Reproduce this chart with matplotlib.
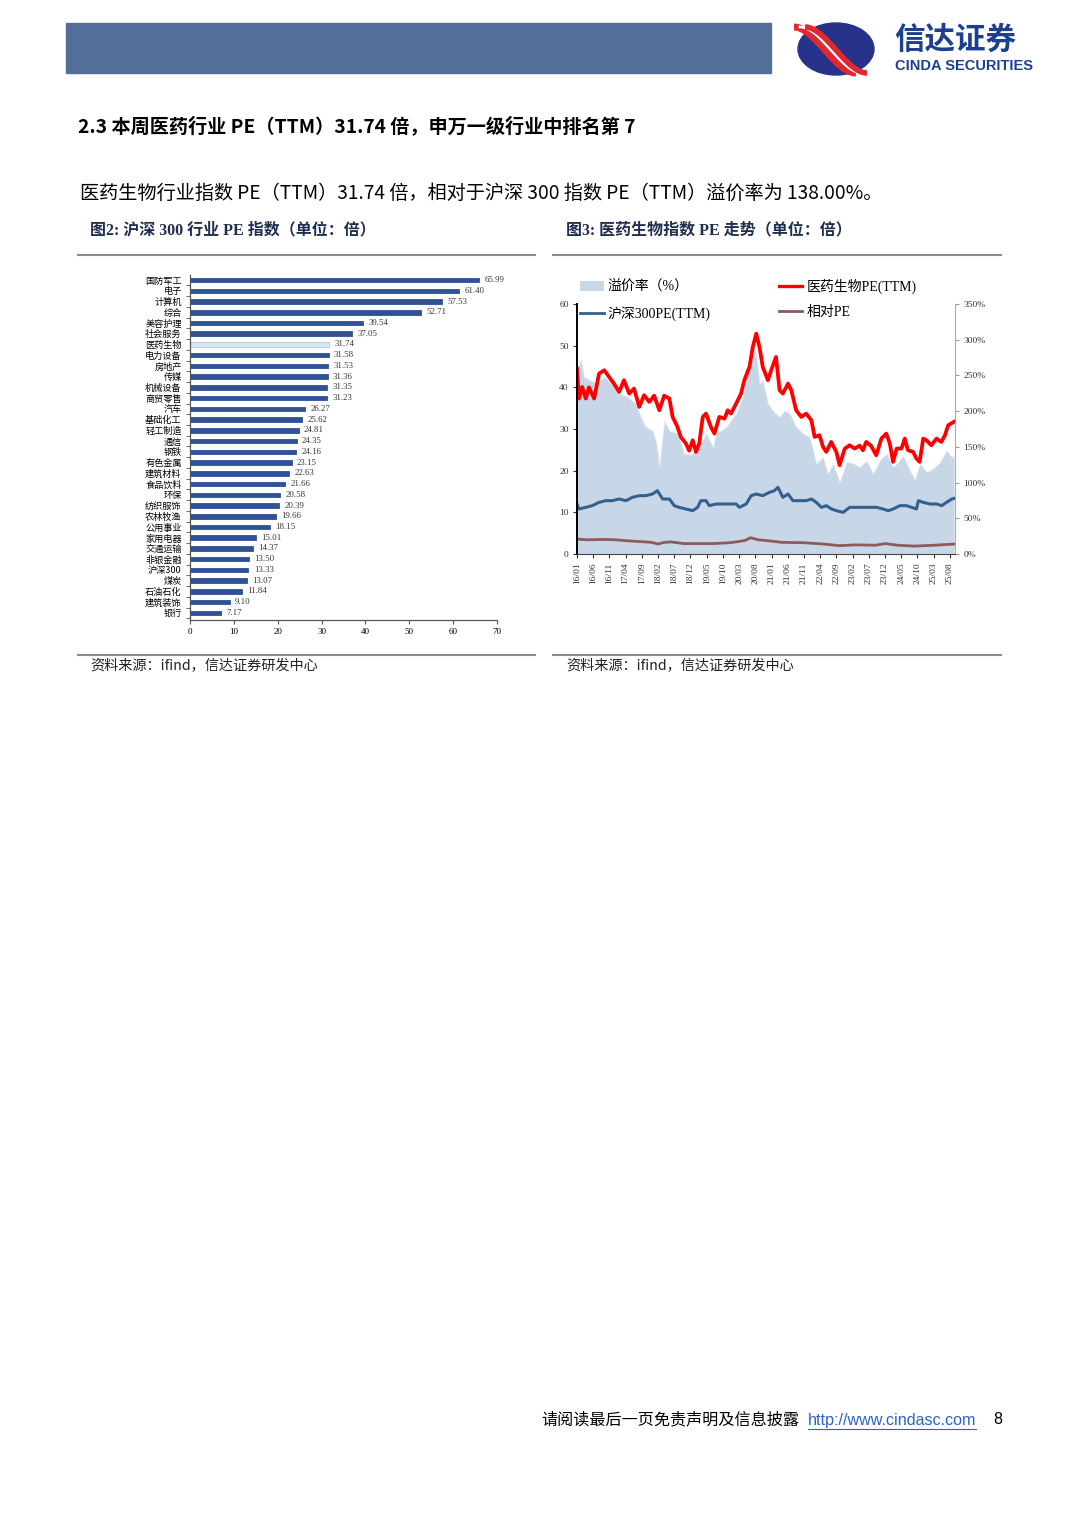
import matplotlib
matplotlib.use("Agg")
import matplotlib.pyplot as plt
from matplotlib.patches import Rectangle, Ellipse, Patch
from matplotlib.lines import Line2D
import numpy as np

plt.rcParams['font.family'] = ['Noto Sans CJK SC', 'DejaVu Sans']
SERIF = ['Liberation Serif', 'Noto Sans CJK SC']

# 图2 数据：申万一级行业 PE(TTM)
industries = ['国防军工', '电子', '计算机', '综合', '美容护理', '社会服务', '医药生物', '电力设备',
              '房地产', '传媒', '机械设备', '商贸零售', '汽车', '基础化工', '轻工制造', '通信',
              '钢铁', '有色金属', '建筑材料', '食品饮料', '环保', '纺织服饰', '农林牧渔', '公用事业',
              '家用电器', '交通运输', '非银金融', '沪深300', '煤炭', '石油石化', '建筑装饰', '银行']
pe_values = [65.99, 61.40, 57.53, 52.71, 39.54, 37.05, 31.74, 31.58, 31.53, 31.36, 31.35, 31.23,
             26.27, 25.62, 24.81, 24.35, 24.16, 23.15, 22.63, 21.66, 20.58, 20.39, 19.66, 18.15,
             15.01, 14.37, 13.50, 13.33, 13.07, 11.84, 9.10, 7.17]
highlight = '医药生物'

# 图3 数据：月份序号（0 = 2016/01）
month_labels = ['16/01', '16/06', '16/11', '17/04', '17/09', '18/02', '18/07', '18/12', '19/05',
                '19/10', '20/03', '20/08', '21/01', '21/06', '21/11', '22/04', '22/09', '23/02',
                '23/07', '23/12', '24/05', '24/10', '25/03', '25/08']

med_t = [0, 0.6, 1.6, 2.7, 3.7, 5.3, 6.8, 8.4, 9.9, 11.4, 13, 14.5, 16.1, 17.6, 19.2, 20.7, 22.3,
         23.8, 25.4, 26.9, 28.5, 29.5, 31, 32, 33.6, 34.6, 35.7, 36.7, 37.7, 38.8, 39.8, 41.3, 42.4,
         43.9, 45.5, 46.5, 47.5, 49.1, 50.6, 51.6, 53.2, 54.2, 55.3, 56.3, 57.3, 58.9, 59.9, 61.4,
         62.5, 63.5, 65.1, 66.1, 67.6, 69.2, 70.7, 72.3, 73.3, 74.8, 75.9, 76.9, 78.4, 80, 81, 82.6,
         84.1, 85.6, 87.2, 88.2, 89.2, 90.7, 92.3, 93.9, 95.4, 96.5, 97.5, 98.6, 100.1, 101.1, 102.1,
         103.7, 104.7, 105.7, 106.8, 107.8, 109.3, 110.9, 112.4, 113.5, 114.5, 116.3]
med_pe = [44.5, 37.3, 40.1, 37.3, 40.0, 37.3, 43.3, 44.1, 42.5, 40.9, 38.9, 41.7, 38.5, 39.7, 35.3,
          38.1, 36.5, 38.0, 34.5, 38.0, 37.3, 32.9, 30.5, 28.1, 26.5, 24.8, 27.3, 24.5, 26.5, 32.9,
          33.7, 30.5, 28.9, 32.9, 32.5, 34.5, 33.7, 36.1, 38.5, 41.7, 44.9, 49.6, 52.9, 49.6, 44.9,
          41.7, 44.1, 47.3, 39.3, 38.5, 40.9, 39.3, 34.5, 32.9, 33.7, 32.1, 28.1, 28.5, 25.7, 24.5,
          26.9, 24.5, 21.3, 25.3, 26.1, 25.3, 26.0, 24.9, 26.9, 26.0, 23.7, 27.7, 28.9, 26.5, 22.1,
          25.3, 25.3, 27.7, 24.9, 24.5, 22.9, 22.1, 27.7, 27.3, 26.1, 27.7, 26.9, 28.5, 30.9, 31.74]

hs_t = [0, 0.6, 2.7, 4.7, 6.8, 8.9, 10.9, 13, 15.1, 17.1, 19.2, 21.2, 23.3, 24.8, 26.4, 28.5, 30,
        31.5, 33.6, 35.7, 37.2, 38.2, 39.8, 40.8, 42.9, 44.9, 47, 49.1, 50.1, 52.2, 53.7, 55.3,
        57.3, 59.4, 60.9, 62, 63.5, 65.1, 66.6, 68.7, 70.7, 72.3, 73.8, 75.4, 76.9, 78.5, 80,
        82.1, 84.1, 86.2, 88.2, 90.3, 92.4, 94.4, 96, 97.5, 99.6, 101.6, 103.2, 104.7, 105.3,
        106.8, 108.9, 110.9, 112.5, 114, 115.6, 116.3]
hs_pe = [12.0, 10.8, 11.2, 11.6, 12.4, 12.8, 12.8, 13.2, 12.8, 13.6, 14.0, 14.0, 14.4, 15.2, 13.2,
         13.2, 11.6, 11.2, 10.8, 10.4, 11.2, 12.8, 12.8, 11.6, 12.0, 12.0, 12.0, 12.0, 11.2, 12.0,
         14.0, 14.4, 14.0, 14.8, 15.2, 16.0, 13.6, 14.4, 12.8, 12.8, 12.8, 13.2, 12.4, 11.2, 11.6,
         10.8, 10.4, 10.0, 11.2, 11.2, 11.2, 11.2, 11.2, 10.8, 10.4, 10.8, 11.6, 11.6, 11.2, 10.8,
         12.8, 12.4, 12.0, 12.0, 11.6, 12.4, 13.2, 13.33]

rel_t = [0, 3, 8, 12, 15, 19, 23, 25, 27, 29, 33, 38, 42, 47, 50, 52, 53.5, 56, 60, 63, 70, 76,
         81, 86, 92, 95, 99, 104, 110, 116.3]
rel_pe = [3.6, 3.4, 3.5, 3.4, 3.2, 3.0, 2.8, 2.4, 2.8, 2.9, 2.5, 2.5, 2.5, 2.7, 3.0, 3.3, 3.9, 3.4,
          3.1, 2.8, 2.7, 2.4, 2.0, 2.2, 2.1, 2.5, 2.1, 1.9, 2.1, 2.38]

prem_t = [0, 1.1, 2.2, 4.2, 6.3, 8.4, 10.4, 13, 15.6, 18.1, 19.7, 21.2, 23.3, 24.5, 25.4, 26.9, 28.5,
          31, 33.1, 35.2, 36.7, 38.2, 39.8, 41.9, 42.9, 46, 49.1, 51.1, 52.7, 54.2, 55.3, 56.3, 57.3,
          58.9, 60.4, 62.5, 64, 65.6, 67.6, 69.7, 71.8, 73.8, 75.9, 77.4, 79, 81, 83.1, 85.2, 87.2,
          89.3, 91.3, 93.4, 95.5, 97.5, 99.1, 100.6, 102.7, 104.2, 105.8, 107.8, 109.9, 112, 114,
          115.6, 116.3]
prem_pct = [257, 274, 248, 243, 239, 248, 241, 225, 220, 211, 192, 178, 173, 155, 124, 187, 173,
            169, 141, 139, 146, 155, 169, 150, 169, 178, 197, 220, 257, 299, 281, 239, 243, 211,
            201, 192, 201, 197, 178, 169, 164, 127, 136, 113, 127, 101, 129, 127, 122, 131, 113,
            131, 141, 122, 129, 138, 117, 104, 127, 115, 120, 129, 145, 136, 138]

W, H = 1080, 1520
fig = plt.figure(figsize=(W / 100, H / 100), dpi=100)
fig.patch.set_facecolor('white')

# 页面背景层（像素坐标）
bg = fig.add_axes([0, 0, 1, 1])
bg.set_xlim(0, W)
bg.set_ylim(H, 0)
bg.axis('off')

bg.add_patch(Rectangle((66, 23), 705, 50, color='#536f97'))
# logo
bg.add_patch(Ellipse((836, 49), 76, 52, color='#27338a'))
s = np.linspace(0, 1, 50)
lx = 798 + 62 * s
ly = 27 + 46 * (3 * s ** 2 - 2 * s ** 3)
bg.plot(lx - 4, ly, color='#e0282e', lw=5, solid_capstyle='butt')
bg.plot(lx + 2, ly, color='white', lw=2)
bg.plot(lx + 7, ly, color='#e0282e', lw=4, solid_capstyle='butt')
bg.text(894, 40, '信达证券', fontsize=22, fontweight='bold', color='#1d3f8f', va='center')
bg.text(895, 66, 'CINDA SECURITIES', fontsize=10.5, fontweight='bold', color='#1d3f8f',
        va='center', family=['Liberation Sans'])

bg.text(78, 126, '2.3 本周医药行业 PE（TTM）31.74 倍，申万一级行业中排名第 7',
        fontsize=13.8, fontweight='bold', va='center', color='black')
bg.text(80, 193, '医药生物行业指数 PE（TTM）31.74 倍，相对于沪深 300 指数 PE（TTM）溢价率为 138.00%。',
        fontsize=13.8, va='center', color='black')

bg.text(90, 230, '图2: 沪深 300 行业 PE 指数（单位：倍）', fontsize=11.5, fontweight='bold',
        va='center', color='#1f2d4f', family=SERIF)
bg.text(566, 230, '图3: 医药生物指数 PE 走势（单位：倍）', fontsize=11.5, fontweight='bold',
        va='center', color='#1f2d4f', family=SERIF)
for x0, x1 in [(78, 535), (553, 1001)]:
    bg.plot([x0, x1], [255, 255], color='#8c8c8c', lw=1.5)
    bg.plot([x0, x1], [655, 655], color='#8c8c8c', lw=1.5)
bg.text(90, 666, '资料来源：ifind，信达证券研发中心', fontsize=10.2, va='center', color='#222222')
bg.text(566, 666, '资料来源：ifind，信达证券研发中心', fontsize=10.2, va='center', color='#222222')

bg.text(541, 1420, '请阅读最后一页免责声明及信息披露', fontsize=11.6, va='center', color='black')
bg.text(808, 1420, 'http://www.cindasc.com', fontsize=11.6, va='center', color='#2a62c9',
        family=['Liberation Sans'])
bg.plot([808, 976], [1429, 1429], color='#2a62c9', lw=0.8)
bg.text(993, 1420, '8', fontsize=11.5, va='center', color='black', family=['Liberation Sans'])

# 图2：横向条形图
ax1 = fig.add_axes([190 / W, 1 - 620 / H, 307 / W, 345 / H])
ypos = np.arange(len(industries))
colors = ['#dce6f2' if n == highlight else '#2f5196' for n in industries]
edges = ['#b4c7de' if n == highlight else '#2f5196' for n in industries]
ax1.barh(ypos, pe_values, height=0.42, color=colors, edgecolor=edges, linewidth=0.6)
for yv, v in zip(ypos, pe_values):
    ax1.text(v + 1.2, yv, f'{v:.2f}', va='center', ha='left', fontsize=6.3, family=SERIF,
             color='#333333')
ax1.set_xlim(0, 70)
ax1.set_ylim(len(industries) - 0.34, -0.47)
ax1.set_xticks(range(0, 71, 10))
ax1.set_yticks(ypos)
ax1.set_yticklabels(industries, fontsize=6.6)
ax1.set_yticks(ypos + 0.5, minor=True)
ax1.tick_params(axis='y', which='major', length=0, pad=6)
ax1.tick_params(axis='y', which='minor', length=3, direction='out', color='#555555')
ax1.tick_params(axis='x', length=3, direction='out', labelsize=6.5, pad=3, color='#555555')
for lab in ax1.get_xticklabels():
    lab.set_family(SERIF)
for sp in ['top', 'right']:
    ax1.spines[sp].set_visible(False)
for sp in ['left', 'bottom']:
    ax1.spines[sp].set_color('#555555')
    ax1.spines[sp].set_linewidth(0.9)

# 图3：双轴折线 + 面积
ax2 = fig.add_axes([577 / W, 1 - 554 / H, 378 / W, 250 / H])
ax3 = ax2.twinx()
ax3.fill_between(prem_t, prem_pct, 0, color='#c8d7e7', edgecolor='#e8eef5', linewidth=0.6)
ax3.set_ylim(0, 350)
ax3.set_yticks(range(0, 351, 50))
ax3.set_yticklabels([f'{v}%' for v in range(0, 351, 50)])
ax2.set_zorder(ax3.get_zorder() + 1)
ax2.patch.set_visible(False)

ax2.plot(rel_t, rel_pe, color='#8d5a5a', lw=2)
ax2.plot(hs_t, hs_pe, color='#34608f', lw=2.2)
ax2.plot(med_t, med_pe, color='#ff0000', lw=2.7)
ax2.set_xlim(0, 116.6)
ax2.set_ylim(0, 60)
ax2.set_yticks(range(0, 61, 10))
ax2.set_xticks(range(0, 116, 5))
ax2.set_xticklabels(month_labels, rotation=90)
ax2.tick_params(axis='both', labelsize=6.8, length=3, color='#333333', pad=3)
ax3.tick_params(axis='y', labelsize=6.8, length=3, color='#999999', pad=3)
for lab in ax2.get_xticklabels() + ax2.get_yticklabels() + ax3.get_yticklabels():
    lab.set_family(SERIF)
    lab.set_color('#333333')
ax2.spines['top'].set_visible(False)
ax2.spines['right'].set_visible(False)
ax2.spines['left'].set_linewidth(1.4)
ax2.spines['left'].set_color('black')
ax2.spines['bottom'].set_color('#444444')
ax3.spines['top'].set_visible(False)
ax3.spines['left'].set_visible(False)
ax3.spines['bottom'].set_visible(False)
ax3.spines['right'].set_color('#aaaaaa')

handles = [Patch(facecolor='#c8d7e7', edgecolor='none'),
           Line2D([], [], color='#34608f', lw=2),
           Line2D([], [], color='#ff0000', lw=2.4),
           Line2D([], [], color='#8d5a5a', lw=2)]
labels = ['溢价率（%）', '沪深300PE(TTM)', '医药生物PE(TTM)', '相对PE']
ax2.legend(handles, labels, ncol=2, loc='upper left', bbox_to_anchor=(580 / W, 1 - 279 / H),
           bbox_transform=fig.transFigure, frameon=False, prop={'family': SERIF, 'size': 10},
           handlelength=1.7, handletextpad=0.3, columnspacing=4.9, labelspacing=0.85,
           borderpad=0, borderaxespad=0)

fig.savefig('out.png', dpi=100)
